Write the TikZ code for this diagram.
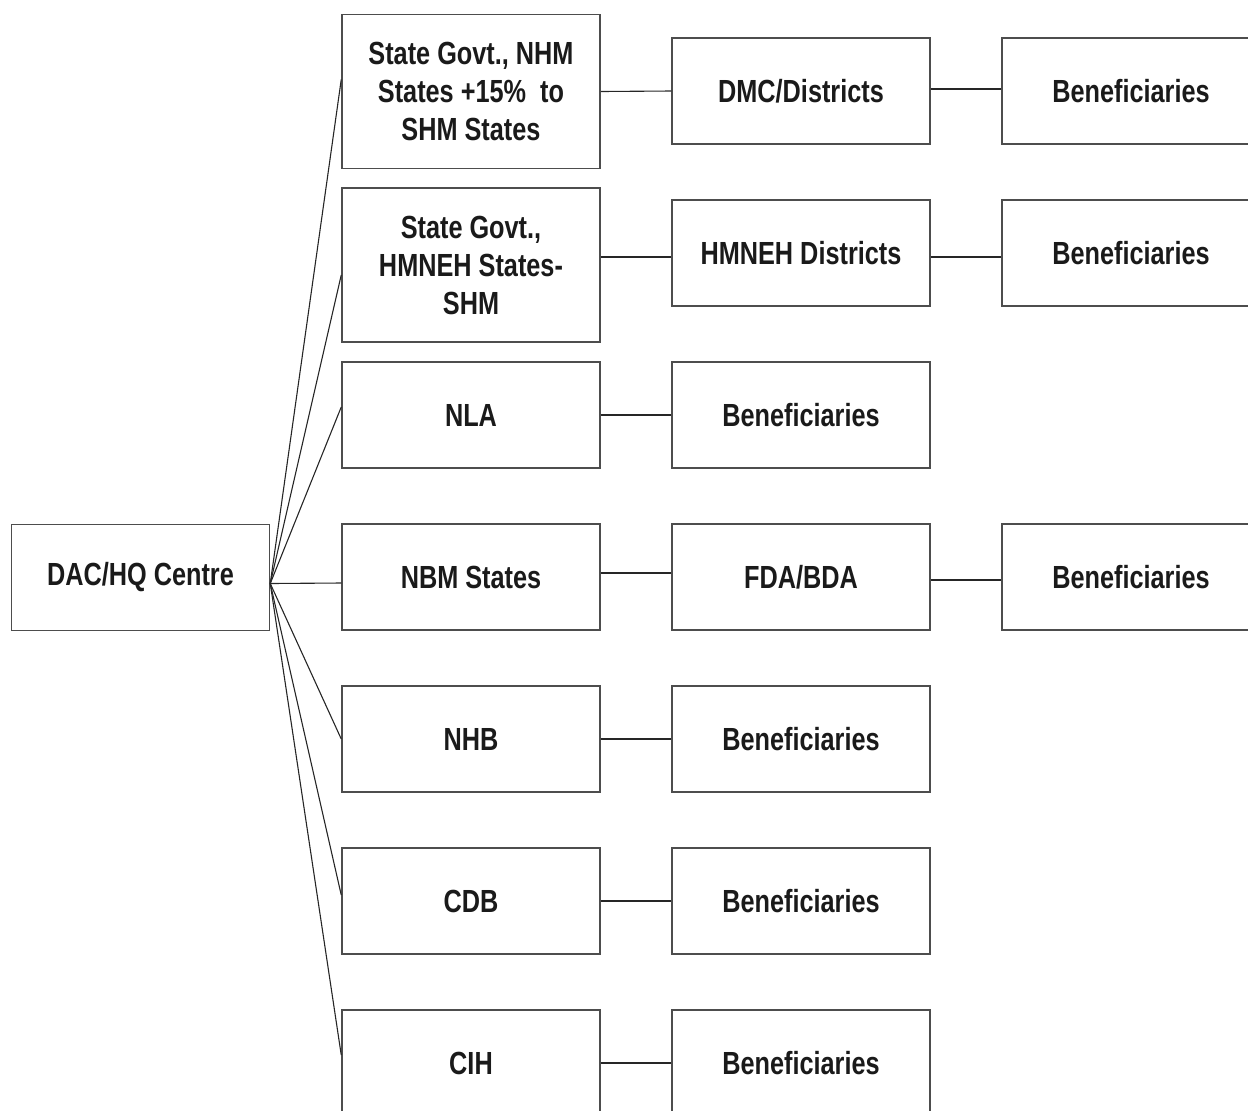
\documentclass[tikz,border=0pt]{standalone}
\usepackage{fontspec}
\setmainfont{Liberation Sans}[FakeStretch=0.79]
\usepackage{tikz}
\usepackage{xcolor}
\definecolor{boxline}{HTML}{4D4D4D}
\definecolor{boxtext}{HTML}{1A1A1A}
\tikzset{
  box/.style={draw=boxline, line width=0.75pt, minimum width=129pt, minimum height=53pt,
    inner sep=2pt, align=center, text=boxtext, font=\bfseries\fontsize{16}{19}\selectfont},
  tallbox/.style={box, minimum height=77pt},
  link/.style={draw=black!85, line width=0.55pt}
}

\begin{document}
\begin{tikzpicture}[x=0.5pt, y=-0.5pt]
  \useasboundingbox (0,0) rectangle (1248,1110);
  \clip (0,0) rectangle (1248,1110);

  % Nodes
  \node[box] (dac) at (140.5, 577.5) {DAC/HQ Centre};

  \node[tallbox] (shm) at (471, 91.5) {State Govt., NHM\\States +15\%\ \ to\\SHM States};
  \node[tallbox] (hmneh) at (471, 265) {State Govt.,\\HMNEH States-\\SHM};
  \node[box] (nla) at (471, 415) {NLA};
  \node[box] (nbm) at (471, 577) {NBM States};
  \node[box] (nhb) at (471, 739) {NHB};
  \node[box] (cdb) at (471, 901) {CDB};
  \node[box] (cih) at (471, 1063) {CIH};

  \node[box] (dmc) at (801, 91) {DMC/Districts};
  \node[box] (hdist) at (801, 253) {HMNEH Districts};
  \node[box] (bnla) at (801, 415) {Beneficiaries};
  \node[box] (fda) at (801, 577) {FDA/BDA};
  \node[box] (bnhb) at (801, 739) {Beneficiaries};
  \node[box] (bcdb) at (801, 901) {Beneficiaries};
  \node[box] (bcih) at (801, 1063) {Beneficiaries};

  \node[box] (bdmc) at (1131, 91) {Beneficiaries};
  \node[box] (bhdist) at (1131, 253) {Beneficiaries};
  \node[box] (bfda) at (1131, 577) {Beneficiaries};

  % Fan out from the centre
  \draw[link] ([yshift=-3pt]dac.east) -- ([yshift=6pt]shm.west);
  \draw[link] ([yshift=-3pt]dac.east) -- ([yshift=-5pt]hmneh.west);
  \draw[link] ([yshift=-3pt]dac.east) -- ([yshift=4pt]nla.west);
  \draw[link] ([yshift=-3pt]dac.east) -- ([yshift=-3pt]nbm.west);
  \draw[link] ([yshift=-3pt]dac.east) -- (nhb.west);
  \draw[link] ([yshift=-3pt]dac.east) -- ([yshift=3pt]cdb.west);
  \draw[link] ([yshift=-3pt]dac.east) -- ([yshift=4pt]cih.west);

  % Second level
  \draw[link] (shm.east) -- (dmc.west);
  \draw[link] ([yshift=-2pt]hdist.west -| hmneh.east) -- ([yshift=-2pt]hdist.west);
  \draw[link] (nla.east) -- (bnla.west);
  \draw[link] ([yshift=2pt]nbm.east) -- ([yshift=2pt]fda.west);
  \draw[link] (nhb.east) -- (bnhb.west);
  \draw[link] (cdb.east) -- (bcdb.west);
  \draw[link] (cih.east) -- (bcih.west);

  % Third level
  \draw[link] ([yshift=1pt]dmc.east) -- ([yshift=1pt]bdmc.west);
  \draw[link] ([yshift=-2pt]hdist.east) -- ([yshift=-2pt]bhdist.west);
  \draw[link] ([yshift=-1.5pt]fda.east) -- ([yshift=-1.5pt]bfda.west);
\end{tikzpicture}
\end{document}
